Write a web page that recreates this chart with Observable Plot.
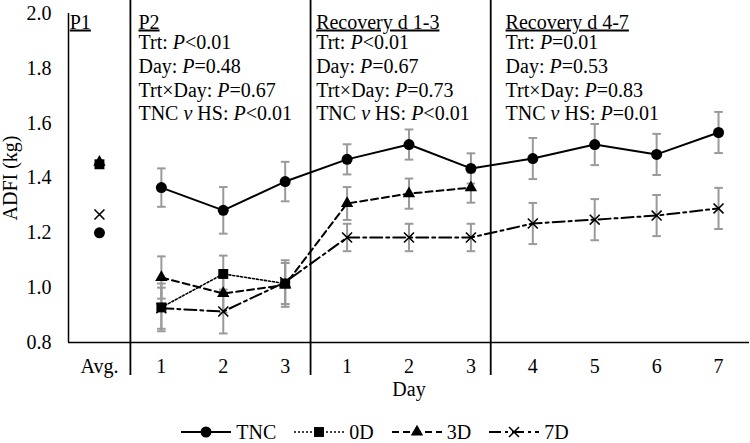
<!DOCTYPE html>
<html>
<head>
<meta charset="utf-8">
<script src="https://cdn.jsdelivr.net/npm/d3@7"></script>
<script src="https://cdn.jsdelivr.net/npm/@observablehq/plot@0.6"></script>
<style>
  body { margin: 0; background: #fff; }
  #chart svg { overflow: visible; }
  #legend { display: flex; justify-content: center; align-items: flex-end; gap: 18px; height: 33px;
            font: 20px "Liberation Serif", "Times New Roman", serif; color: #000; line-height: 22px; }
  #legend .item { display: flex; align-items: center; gap: 5px; }
</style>
</head>
<body>
<div id="chart"></div>
<div id="legend"></div>
<script>
// ---------- data ----------
const xLabels = ["Avg.", "1", "2", "3", "1", "2", "3", "4", "5", "6", "7"];
const xTitle = "Day";
const yTitle = "ADFI (kg)";
const yTicks = [0.8, 1.0, 1.2, 1.4, 1.6, 1.8, 2.0];
const seriesNames = ["TNC", "0D", "3D", "7D"];

const tncValues = [1.20, 1.365, 1.282, 1.387, 1.468, 1.522, 1.435, 1.471, 1.522, 1.486, 1.566];
const tncErrors = [null, 0.070, 0.085, 0.072, 0.055, 0.055, 0.055, 0.075, 0.075, 0.075, 0.075];
const d0Values  = [1.450, 0.928, 1.050, 1.015, null, null, null, null, null, null, null];
const d0Errors  = [null, 0.087, 0.067, 0.075, null, null, null, null, null, null, null];
const d3Values  = [1.458, 1.037, 0.979, 1.010, 1.307, 1.343, 1.365, null, null, null, null];
const d3Errors  = [null, 0.077, 0.070, 0.080, 0.060, 0.055, 0.055, null, null, null, null];
const d7Values  = [1.267, 0.925, 0.913, 1.020, 1.183, 1.183, 1.183, 1.234, 1.248, 1.263, 1.289];
const d7Errors  = [null, 0.075, 0.080, 0.080, 0.050, 0.050, 0.050, 0.075, 0.075, 0.075, 0.075];

// section separators and annotations (x in category-index units)
const separators = [0.5, 3.41, 6.32];
const headers = ["P1", "P2", "Recovery d 1-3", "Recovery d 4-7"];
const headerX = [-0.48, 0.63, 3.5, 6.56];
const statsP2    = ["Trt: P<0.01", "Day: P=0.48", "Trt×Day: P=0.67", "TNC v HS: P<0.01"];
const statsRec13 = ["Trt: P<0.01", "Day: P=0.67", "Trt×Day: P=0.73", "TNC v HS: P<0.01"];
const statsRec47 = ["Trt: P=0.01", "Day: P=0.53", "Trt×Day: P=0.83", "TNC v HS: P=0.01"];
const statsX = [0.63, 3.5, 6.56];

// ---------- styles ----------
const styles = {
  "TNC": {symbol: "circle",   r: 5.5, dash: null,       width: 2},
  "0D":  {symbol: "square",   r: 5.6, dash: "2,2",      width: 1.6},
  "3D":  {symbol: "triangle", r: 4.6, dash: "7,4",      width: 2},
  "7D":  {symbol: "times",    r: 4.6, dash: "12,4,3,4", width: 2}
};
const errColor = "#9a9a9a";
const font = '"Liberation Serif", "Times New Roman", serif';

// ---------- tidy rows ----------
const seriesValues = {"TNC": tncValues, "0D": d0Values, "3D": d3Values, "7D": d7Values};
const seriesErrors = {"TNC": tncErrors, "0D": d0Errors, "3D": d3Errors, "7D": d7Errors};
const rows = [];
for (const s of seriesNames) {
  seriesValues[s].forEach((v, i) => {
    if (v != null) rows.push({series: s, i, value: v, err: seriesErrors[s][i]});
  });
}
const errRows = rows.filter(d => d.err != null);

const capSymbol = {
  draw(context, size) {
    const r = Math.sqrt(size / Math.PI);
    context.moveTo(-r, 0);
    context.lineTo(r, 0);
  }
};

const statBlocks = [statsP2, statsRec13, statsRec47].map((lines, k) => ({x: statsX[k], lines}));
const statOffsets = [35.5, 59.5, 83, 106.5];

// draw order: 3D markers under 0D markers
const markerOrder = ["TNC", "3D", "0D", "7D"];

const marks = [
  Plot.ruleX(separators, {x: d => d, stroke: "#000", strokeWidth: 1.8, insetTop: -13, insetBottom: -33}),
  Plot.ruleX([-0.5], {x: d => d, stroke: "#000", strokeWidth: 1.5}),
  Plot.ruleY([yTicks[0]], {y: d => d, stroke: "#000", strokeWidth: 1.5}),
  Plot.axisY({ticks: yTicks, tickFormat: d3.format(".1f"), tickSize: 0, tickPadding: 17, label: null, fontSize: 20}),
  Plot.axisX({ticks: d3.range(xLabels.length), tickFormat: i => xLabels[i], tickSize: 0, tickPadding: 16, label: null, fontSize: 20}),
  Plot.text([xTitle], {text: d => d, frameAnchor: "bottom", dy: 53, fontSize: 20}),
  Plot.text([yTitle], {text: d => d, frameAnchor: "left", textAnchor: "middle", rotate: -90, dx: -58, fontSize: 20}),
  Plot.text(headers, {text: d => d, x: (d, k) => headerX[k], frameAnchor: "top", lineAnchor: "bottom",
    textAnchor: "start", dy: 15, fontSize: 20}),
  ...statOffsets.map((off, li) => Plot.text(statBlocks, {text: d => d.lines[li], x: "x", frameAnchor: "top",
    lineAnchor: "bottom", textAnchor: "start", dy: off, fontSize: 20})),
  Plot.ruleX(errRows, {x: "i", y1: d => d.value - d.err, y2: d => d.value + d.err, stroke: errColor, strokeWidth: 2}),
  Plot.dot(errRows, {x: "i", y: d => d.value + d.err, symbol: capSymbol, r: 4.3, fill: "none", stroke: errColor, strokeWidth: 2}),
  Plot.dot(errRows, {x: "i", y: d => d.value - d.err, symbol: capSymbol, r: 4.3, fill: "none", stroke: errColor, strokeWidth: 2}),
  ...seriesNames.map(s => Plot.line(rows.filter(d => d.series === s && d.i > 0), {
    x: "i", y: "value", stroke: "#000", strokeWidth: styles[s].width,
    strokeDasharray: styles[s].dash || undefined, strokeLinejoin: "round"
  })),
  ...markerOrder.map(s => styles[s].symbol === "times"
    ? Plot.dot(rows.filter(d => d.series === s), {x: "i", y: "value", symbol: "times", r: styles[s].r, stroke: "#000", strokeWidth: 1.6})
    : Plot.dot(rows.filter(d => d.series === s), {x: "i", y: "value", symbol: styles[s].symbol, r: styles[s].r, fill: "#000", stroke: "none"}))
];

const chart = Plot.plot({
  width: 750,
  height: 410,
  marginTop: 13,
  marginLeft: 68,
  marginRight: 1,
  marginBottom: 68,
  x: {type: "linear", domain: [-0.5, xLabels.length - 0.5]},
  y: {domain: [yTicks[0], yTicks[yTicks.length - 1]]},
  style: {fontFamily: font, fontSize: "20px", color: "#000", background: "#fff", overflow: "visible"},
  marks
});
document.getElementById("chart").appendChild(chart);

// underline headers; italic P and v in the statistics lines
const svgns = "http://www.w3.org/2000/svg";
const headerSet = new Set(headers);
const statSet = new Set([...statsP2, ...statsRec13, ...statsRec47]);
d3.select(chart).selectAll("text").each(function () {
  const s = this.textContent;
  if (headerSet.has(s)) {
    this.setAttribute("text-decoration", "underline");
    this.style.textDecoration = "underline";
  } else if (statSet.has(s)) {
    const parts = s.split(/(\bP(?=[<=])|\bv\b)/);
    this.textContent = "";
    for (const p of parts) {
      if (!p) continue;
      const ts = document.createElementNS(svgns, "tspan");
      ts.textContent = p;
      if (p === "P" || p === "v") ts.setAttribute("font-style", "italic");
      this.appendChild(ts);
    }
  }
  this.setAttribute("fill", "#000");
});

// ---------- legend ----------
const legend = d3.select("#legend");
const types = {circle: d3.symbolCircle, square: d3.symbolSquare, triangle: d3.symbolTriangle, times: d3.symbolTimes};
for (const s of seriesNames) {
  const st = styles[s];
  const item = legend.append("span").attr("class", "item");
  const svg = item.append("svg").attr("width", 50).attr("height", 16);
  svg.append("line").attr("x1", 0).attr("x2", 50).attr("y1", 8).attr("y2", 8)
    .attr("stroke", "#000").attr("stroke-width", st.width)
    .attr("stroke-dasharray", st.dash);
  const path = svg.append("path").attr("transform", "translate(25,8)")
    .attr("d", d3.symbol(types[st.symbol], Math.PI * st.r * st.r)());
  if (st.symbol === "times") path.attr("fill", "none").attr("stroke", "#000").attr("stroke-width", 1.6);
  else path.attr("fill", "#000");
  item.append("span").text(s);
}
</script>
</body>
</html>
